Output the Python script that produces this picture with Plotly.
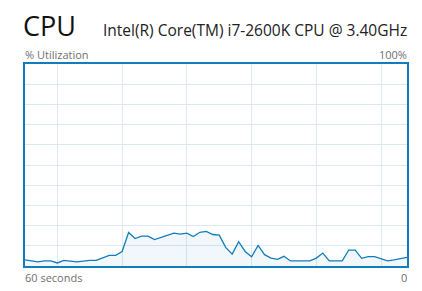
import plotly.graph_objects as go

# CPU utilization samples, oldest (60 s ago) to newest (now)
seconds_idx = list(range(60))
utilization = [3.0, 2.6, 2.0, 2.5, 2.5, 1.5, 2.8, 2.4, 2.0, 2.4,
               2.8, 2.8, 4.0, 5.3, 5.3, 7.2, 16.6, 13.6, 14.8, 14.8,
               13.1, 14.2, 15.3, 16.3, 15.8, 16.3, 14.6, 16.7, 17.1, 15.6,
               15.3, 9.2, 5.9, 12.0, 7.2, 4.6, 10.2, 5.6, 3.9, 3.3,
               4.8, 2.5, 2.5, 2.5, 2.5, 3.9, 6.4, 2.5, 2.5, 2.5,
               7.9, 7.9, 3.8, 4.6, 4.6, 3.4, 2.5, 3.0, 3.8, 4.3]
x_grid = [5, 15, 25, 35, 45, 55]
y_grid = [10, 20, 30, 40, 50, 60, 70, 80, 90]

title_text = "CPU"
cpu_name = "Intel(R) Core(TM) i7-2600K CPU @ 3.40GHz"
top_left_label = "% Utilization"
top_right_label = "100%"
bottom_left_label = "60 seconds"
bottom_right_label = "0"

BLUE = "rgb(17,125,187)"
GRID = "rgb(217,234,244)"
FILL = "rgba(17,125,187,0.06)"
FONT = "Open Sans"

fig = go.Figure()
fig.add_trace(go.Scatter(
    x=seconds_idx, y=utilization, mode="lines",
    line=dict(color=BLUE, width=1.3),
    fill="tozeroy", fillcolor=FILL,
    hoverinfo="skip", showlegend=False,
))

fig.update_layout(
    width=422, height=291,
    margin=dict(l=25, r=15, t=64, b=25),
    paper_bgcolor="white", plot_bgcolor="white",
    font=dict(family=FONT),
    xaxis=dict(range=[0, 59], tickvals=x_grid, showticklabels=False,
               showgrid=True, gridcolor=GRID, gridwidth=1, zeroline=False,
               showline=True, mirror=True, linecolor=BLUE, linewidth=1.5,
               ticks="", fixedrange=True),
    yaxis=dict(range=[0, 100], tickvals=y_grid, showticklabels=False,
               showgrid=True, gridcolor=GRID, gridwidth=1, zeroline=False,
               showline=True, mirror=True, linecolor=BLUE, linewidth=1.5,
               ticks="", fixedrange=True),
)

annos = [
    dict(text=title_text, x=22, y=45, xanchor="left", yanchor="bottom",
         font=dict(size=27, color="#111111", family=FONT)),
    dict(text=cpu_name, x=408, y=18, xanchor="right", yanchor="top",
         font=dict(size=15.5, color="#222222", family=FONT)),
    dict(text=top_left_label, x=24, y=46, xanchor="left", yanchor="top",
         font=dict(size=11, color="#707070", family=FONT)),
    dict(text=top_right_label, x=408, y=46, xanchor="right", yanchor="top",
         font=dict(size=11, color="#707070", family=FONT)),
    dict(text=bottom_left_label, x=24, y=269, xanchor="left", yanchor="top",
         font=dict(size=11, color="#707070", family=FONT)),
    dict(text=bottom_right_label, x=408, y=269, xanchor="right", yanchor="top",
         font=dict(size=11, color="#707070", family=FONT)),
]
for a in annos:
    fig.add_annotation(xref="paper", yref="paper", showarrow=False,
                       x=(a["x"] - 25) / (422 - 25 - 15),
                       y=1 - (a["y"] - 64) / (291 - 64 - 25),
                       text=a["text"], xanchor=a["xanchor"], yanchor=a["yanchor"],
                       font=a["font"], borderpad=0)

fig.write_html("out.html")
